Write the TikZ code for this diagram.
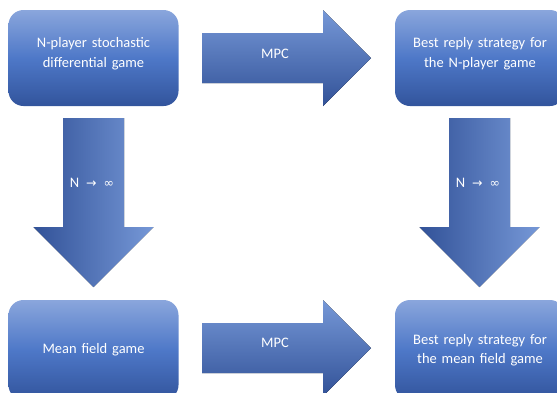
\documentclass[tikz,border=0pt]{standalone}
\usepackage{fontspec}
\setmainfont{Carlito}
\newfontfamily\symfont{DejaVu Sans}
\definecolor{boxtop}{RGB}{138,166,220}
\definecolor{boxmid}{RGB}{78,120,200}
\definecolor{boxbot}{RGB}{50,84,156}
\definecolor{arrlight}{RGB}{118,152,215}
\definecolor{arrdark}{RGB}{50,82,152}
\begin{document}
\begin{tikzpicture}[x=1pt,y=-1pt]

	\def \toprow{58}
	\def \botrow{350}
	\tikzstyle{box}=[rounded corners=15pt,minimum width=170pt,minimum height=96pt,text width=150pt,align=center,text=white,font=\fontsize{14.5}{19.5}\selectfont,top color=boxtop,bottom color=boxbot,middle color=boxmid]
	\tikzstyle{annot}=[text=white,font=\fontsize{14.5}{17}\selectfont,inner sep=0pt]
	\tikzstyle{harrow}=[top color=arrlight,bottom color=arrdark]
	\tikzstyle{varrow}=[left color=arrdark,right color=arrlight]

	\useasboundingbox (0,0) rectangle (557,392);
	\clip (0,0) rectangle (557,392);

	% boxes
	\node[box,text depth=31pt] (ngame)	at (93.5,\toprow)	{N-player stochastic\\differential game};
	\node[box,text depth=31pt] (nbest)	at (480,\toprow)	{Best reply strategy for\\the N-player game};
	\node[box,minimum height=100pt] (mfg)	at (93.5,\botrow)	{Mean field game};
	\node[box,minimum height=100pt] (mbest)	at (480,\botrow)	{Best reply strategy for\\the mean field game};

	% arrows
	\fill[harrow] (202,\toprow-25) -- (323,\toprow-25) -- (323,\toprow-48) -- (371,\toprow) -- (323,\toprow+48) -- (323,\toprow+25) -- (202,\toprow+25) -- cycle;
	\fill[harrow] (202,\botrow-27) -- (323,\botrow-27) -- (323,\botrow-50) -- (371,\botrow-2) -- (323,\botrow+46) -- (323,\botrow+23) -- (202,\botrow+23) -- cycle;
	\fill[varrow] (63,118) -- (124,118) -- (124,227) -- (153.5,227) -- (93.5,287) -- (33.5,227) -- (63,227) -- cycle;
	\fill[varrow] (449,118) -- (510,118) -- (510,227) -- (539.5,227) -- (479.5,287) -- (419.5,227) -- (449,227) -- cycle;

	% labels
	\node[annot] (mpctop)	at (275,\toprow-4)	{MPC};
	\node[annot] (mpcbot)	at (275,\botrow-7)	{MPC};
	\node[annot] (limleft)	at (92,183)		{N\hspace{7pt}{\symfont\fontsize{12.5}{14}\selectfont →\hspace{7pt}∞}};
	\node[annot] (limright)	at (478,183)	{N\hspace{7pt}{\symfont\fontsize{12.5}{14}\selectfont →\hspace{7pt}∞}};
\end{tikzpicture}
\end{document}
